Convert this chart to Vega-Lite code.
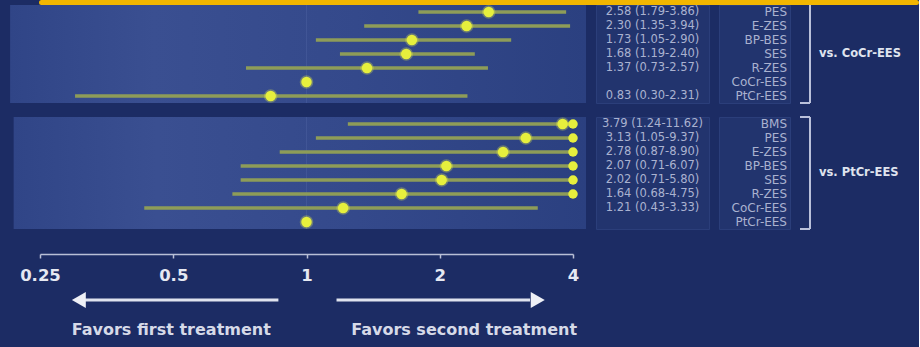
{
  "$schema": "https://vega.github.io/schema/vega-lite/v6.json",
  "background": "#1c2c64",
  "padding": {"left": 10, "top": 0, "right": 0, "bottom": 0},
  "config": {"view": {"stroke": null}, "font": "DejaVu Sans", "legend": {"disable": true}},
  "datasets": {
    "top": [
      {"trt": "PES", "est": 2.58, "lo": 1.79, "hi": 3.86, "ci": "2.58 (1.79-3.86)"},
      {"trt": "E-ZES", "est": 2.30, "lo": 1.35, "hi": 3.94, "ci": "2.30 (1.35-3.94)"},
      {"trt": "BP-BES", "est": 1.73, "lo": 1.05, "hi": 2.90, "ci": "1.73 (1.05-2.90)"},
      {"trt": "SES", "est": 1.68, "lo": 1.19, "hi": 2.40, "ci": "1.68 (1.19-2.40)"},
      {"trt": "R-ZES", "est": 1.37, "lo": 0.73, "hi": 2.57, "ci": "1.37 (0.73-2.57)"},
      {"trt": "CoCr-EES", "est": 1, "lo": null, "hi": null, "ci": ""},
      {"trt": "PtCr-EES", "est": 0.83, "lo": 0.30, "hi": 2.31, "ci": "0.83 (0.30-2.31)"}
    ],
    "bottom": [
      {"trt": "BMS", "est": 3.79, "lo": 1.24, "hi": 11.62, "ci": "3.79 (1.24-11.62)"},
      {"trt": "PES", "est": 3.13, "lo": 1.05, "hi": 9.37, "ci": "3.13 (1.05-9.37)"},
      {"trt": "E-ZES", "est": 2.78, "lo": 0.87, "hi": 8.90, "ci": "2.78 (0.87-8.90)"},
      {"trt": "BP-BES", "est": 2.07, "lo": 0.71, "hi": 6.07, "ci": "2.07 (0.71-6.07)"},
      {"trt": "SES", "est": 2.02, "lo": 0.71, "hi": 5.80, "ci": "2.02 (0.71-5.80)"},
      {"trt": "R-ZES", "est": 1.64, "lo": 0.68, "hi": 4.75, "ci": "1.64 (0.68-4.75)"},
      {"trt": "CoCr-EES", "est": 1.21, "lo": 0.43, "hi": 3.33, "ci": "1.21 (0.43-3.33)"},
      {"trt": "PtCr-EES", "est": 1, "lo": null, "hi": null, "ci": ""}
    ],
    "arrows": [
      {"kind": "arrow", "dir": "left", "from": 0.864, "to": 0.316, "head": 0.306},
      {"kind": "arrow", "dir": "right", "from": 1.169, "to": 3.2, "head": 3.33},
      {"kind": "caption", "at": 0.495, "label": "Favors first treatment"},
      {"kind": "caption", "at": 2.27, "label": "Favors second treatment"}
    ]
  },
  "spacing": -5,
  "vconcat": [
    {
      "width": 878, "height": 3,
      "view": {"fill": "#f2b600", "stroke": "#f2b600", "strokeWidth": 2, "cornerRadius": 2},
      "data": {"values": [{}]},
      "mark": {"type": "rect", "opacity": 0},
      "encoding": {}
    },
    {
      "spacing": 12,
      "vconcat": [
        {
          "spacing": 8,
          "hconcat": [
            {
              "width": 533, "height": 98,
              "data": {"name": "top"},
              "layer": [
                {"data": {"values": [{}]},
                 "mark": {"type": "rect", "color": {"gradient": "linear", "x1": 0, "y1": 0, "x2": 1, "y2": 0, "stops": [{"offset": 0, "color": "#304587"}, {"offset": 0.25, "color": "#3a4f91"}, {"offset": 0.6, "color": "#34498b"}, {"offset": 1, "color": "#2b4080"}]}},
                 "encoding": {"x": {"datum": 0.214, "type": "quantitative", "scale": {"type": "log", "domain": [0.25, 4], "nice": false}, "axis": null}, "x2": {"datum": 4.28}}},
                {"data": {"values": [{}]},
                 "mark": {"type": "rule", "color": "#4b60a0", "opacity": 0.5, "strokeWidth": 1},
                 "encoding": {"x": {"datum": 1, "type": "quantitative", "scale": {"type": "log", "domain": [0.25, 4], "nice": false}, "axis": null}}},
                {"transform": [{"filter": {"field": "lo", "valid": true}}, {"calculate": "min(datum.hi, 4)", "as": "hi_draw"}],
                 "mark": {"type": "rule", "color": "#8e9c58", "strokeWidth": 3.5},
                 "encoding": {
                   "x": {"field": "lo", "type": "quantitative", "scale": {"type": "log", "domain": [0.25, 4], "nice": false}, "axis": null},
                   "x2": {"field": "hi_draw"},
                   "y": {"field": "trt", "type": "nominal", "scale": {"domain": ["PES", "E-ZES", "BP-BES", "SES", "R-ZES", "CoCr-EES", "PtCr-EES"]}, "axis": null}}},
                {"mark": {"type": "point", "filled": true, "color": "#eaf24a", "opacity": 0.3, "size": 185},
                 "encoding": {
                   "x": {"field": "est", "type": "quantitative", "scale": {"type": "log", "domain": [0.25, 4], "nice": false}, "axis": null},
                   "y": {"field": "trt", "type": "nominal", "scale": {"domain": ["PES", "E-ZES", "BP-BES", "SES", "R-ZES", "CoCr-EES", "PtCr-EES"]}, "axis": null}}},
                {"mark": {"type": "point", "filled": true, "color": "#e6ef3d", "opacity": 1, "size": 110},
                 "encoding": {
                   "x": {"field": "est", "type": "quantitative", "scale": {"type": "log", "domain": [0.25, 4], "nice": false}, "axis": null},
                   "y": {"field": "trt", "type": "nominal", "scale": {"domain": ["PES", "E-ZES", "BP-BES", "SES", "R-ZES", "CoCr-EES", "PtCr-EES"]}, "axis": null}}}
              ]
            },
            {"width": 113, "height": 98, "data": {"name": "top"},
             "view": {"fill": "#22346e", "stroke": "#2b3e7a"},
             "mark": {"type": "text", "fontSize": 11.5, "color": "#aab2d0", "align": "center", "baseline": "middle"},
             "encoding": {"y": {"field": "trt", "type": "nominal", "scale": {"domain": ["PES", "E-ZES", "BP-BES", "SES", "R-ZES", "CoCr-EES", "PtCr-EES"]}, "axis": null}, "text": {"field": "ci"}}},
            {"width": 71, "height": 98, "data": {"name": "top"},
             "view": {"fill": "#22346e", "stroke": "#2b3e7a"},
             "mark": {"type": "text", "fontSize": 12, "color": "#aab2d0", "align": "right", "baseline": "middle", "dx": -3},
             "encoding": {"x": {"value": "width"}, "y": {"field": "trt", "type": "nominal", "scale": {"domain": ["PES", "E-ZES", "BP-BES", "SES", "R-ZES", "CoCr-EES", "PtCr-EES"]}, "axis": null}, "text": {"field": "trt"}}},
            {"width": 10, "height": 98, "data": {"values": [{}]},
             "layer": [
               {"mark": {"type": "rule", "color": "#b9c0da", "strokeWidth": 2}, "encoding": {"x": {"value": "width"}, "y": {"value": 0}, "y2": {"value": "height"}}},
               {"mark": {"type": "rule", "color": "#b9c0da", "strokeWidth": 2}, "encoding": {"x": {"value": 0}, "x2": {"value": "width"}, "y": {"value": "height"}}}
             ]},
            {"width": 97, "height": 98, "data": {"values": [{"t": "vs. CoCr-EES"}]},
             "mark": {"type": "text", "fontSize": 11.5, "fontWeight": "bold", "color": "#dfe3ee", "align": "left", "baseline": "middle"},
             "encoding": {"x": {"value": 0}, "text": {"field": "t"}}}
          ]
        },
        {
          "spacing": 8,
          "hconcat": [
            {
              "width": 533, "height": 112,
              "data": {"name": "bottom"},
              "layer": [
                {"data": {"values": [{}]},
                 "mark": {"type": "rect", "color": {"gradient": "linear", "x1": 0, "y1": 0, "x2": 1, "y2": 0, "stops": [{"offset": 0, "color": "#304587"}, {"offset": 0.25, "color": "#3a4f91"}, {"offset": 0.6, "color": "#34498b"}, {"offset": 1, "color": "#2b4080"}]}},
                 "encoding": {"x": {"datum": 0.218, "type": "quantitative", "scale": {"type": "log", "domain": [0.25, 4], "nice": false}, "axis": null}, "x2": {"datum": 4.28}}},
                {"data": {"values": [{}]},
                 "mark": {"type": "rule", "color": "#4b60a0", "opacity": 0.5, "strokeWidth": 1},
                 "encoding": {"x": {"datum": 1, "type": "quantitative", "scale": {"type": "log", "domain": [0.25, 4], "nice": false}, "axis": null}}},
                {"transform": [{"filter": {"field": "lo", "valid": true}}, {"calculate": "min(datum.hi, 4)", "as": "hi_draw"}],
                 "mark": {"type": "rule", "color": "#8e9c58", "strokeWidth": 3.5},
                 "encoding": {
                   "x": {"field": "lo", "type": "quantitative", "scale": {"type": "log", "domain": [0.25, 4], "nice": false}, "axis": null},
                   "x2": {"field": "hi_draw"},
                   "y": {"field": "trt", "type": "nominal", "scale": {"domain": ["BMS", "PES", "E-ZES", "BP-BES", "SES", "R-ZES", "CoCr-EES", "PtCr-EES"]}, "axis": null}}},
                {"transform": [{"filter": "datum.hi > 4"}],
                 "mark": {"type": "point", "filled": true, "color": "#e6ef3d", "opacity": 1, "size": 90},
                 "encoding": {
                   "x": {"datum": 4, "type": "quantitative", "scale": {"type": "log", "domain": [0.25, 4], "nice": false}, "axis": null},
                   "y": {"field": "trt", "type": "nominal", "scale": {"domain": ["BMS", "PES", "E-ZES", "BP-BES", "SES", "R-ZES", "CoCr-EES", "PtCr-EES"]}, "axis": null}}},
                {"mark": {"type": "point", "filled": true, "color": "#eaf24a", "opacity": 0.3, "size": 185},
                 "encoding": {
                   "x": {"field": "est", "type": "quantitative", "scale": {"type": "log", "domain": [0.25, 4], "nice": false}, "axis": null},
                   "y": {"field": "trt", "type": "nominal", "scale": {"domain": ["BMS", "PES", "E-ZES", "BP-BES", "SES", "R-ZES", "CoCr-EES", "PtCr-EES"]}, "axis": null}}},
                {"mark": {"type": "point", "filled": true, "color": "#e6ef3d", "opacity": 1, "size": 110},
                 "encoding": {
                   "x": {"field": "est", "type": "quantitative", "scale": {"type": "log", "domain": [0.25, 4], "nice": false}, "axis": null},
                   "y": {"field": "trt", "type": "nominal", "scale": {"domain": ["BMS", "PES", "E-ZES", "BP-BES", "SES", "R-ZES", "CoCr-EES", "PtCr-EES"]}, "axis": null}}}
              ]
            },
            {"width": 113, "height": 112, "data": {"name": "bottom"},
             "view": {"fill": "#22346e", "stroke": "#2b3e7a"},
             "mark": {"type": "text", "fontSize": 11.5, "color": "#aab2d0", "align": "center", "baseline": "middle"},
             "encoding": {"y": {"field": "trt", "type": "nominal", "scale": {"domain": ["BMS", "PES", "E-ZES", "BP-BES", "SES", "R-ZES", "CoCr-EES", "PtCr-EES"]}, "axis": null}, "text": {"field": "ci"}}},
            {"width": 71, "height": 112, "data": {"name": "bottom"},
             "view": {"fill": "#22346e", "stroke": "#2b3e7a"},
             "mark": {"type": "text", "fontSize": 12, "color": "#aab2d0", "align": "right", "baseline": "middle", "dx": -3},
             "encoding": {"x": {"value": "width"}, "y": {"field": "trt", "type": "nominal", "scale": {"domain": ["BMS", "PES", "E-ZES", "BP-BES", "SES", "R-ZES", "CoCr-EES", "PtCr-EES"]}, "axis": null}, "text": {"field": "trt"}}},
            {"width": 10, "height": 112, "data": {"values": [{}]},
             "layer": [
               {"mark": {"type": "rule", "color": "#b9c0da", "strokeWidth": 2}, "encoding": {"x": {"value": "width"}, "y": {"value": 0}, "y2": {"value": "height"}}},
               {"mark": {"type": "rule", "color": "#b9c0da", "strokeWidth": 2}, "encoding": {"x": {"value": 0}, "x2": {"value": "width"}, "y": {"value": 0}}},
               {"mark": {"type": "rule", "color": "#b9c0da", "strokeWidth": 2}, "encoding": {"x": {"value": 0}, "x2": {"value": "width"}, "y": {"value": "height"}}}
             ]},
            {"width": 97, "height": 112, "data": {"values": [{"t": "vs. PtCr-EES"}]},
             "mark": {"type": "text", "fontSize": 11.5, "fontWeight": "bold", "color": "#dfe3ee", "align": "left", "baseline": "middle"},
             "encoding": {"x": {"value": 0}, "text": {"field": "t"}}}
          ]
        },
        {
          "width": 533, "height": 108,
          "data": {"name": "arrows"},
          "layer": [
            {"transform": [{"filter": "datum.kind == 'arrow'"}],
             "mark": {"type": "rule", "color": "#dfe3ee", "strokeWidth": 3},
             "encoding": {
               "x": {"field": "from", "type": "quantitative", "scale": {"type": "log", "domain": [0.25, 4], "nice": false}, "axis": {"values": [0.25, 0.5, 1, 2, 4], "format": "~g", "title": null, "offset": -96, "domainColor": "#b8bfd6", "domainWidth": 1.5, "tickColor": "#b8bfd6", "tickSize": 4, "tickWidth": 1.5, "labelColor": "#e6e9f2", "labelFontSize": 16.5, "labelFontWeight": "bold", "labelPadding": 9, "grid": false, "labelFlush": false}},
               "x2": {"field": "to"},
               "y": {"field": "kind", "type": "nominal", "scale": {"type": "band", "domain": ["arrow", "caption"], "paddingInner": 0, "paddingOuter": 0.8, "align": 0.896}, "axis": null}}},
            {"transform": [{"filter": "datum.kind == 'arrow'"}],
             "mark": {"type": "point", "filled": true, "color": "#eef0f6", "opacity": 1, "size": 260},
             "encoding": {
               "x": {"field": "head", "type": "quantitative", "scale": {"type": "log", "domain": [0.25, 4], "nice": false}, "axis": {"values": [0.25, 0.5, 1, 2, 4], "format": "~g", "title": null, "offset": -96, "domainColor": "#b8bfd6", "domainWidth": 1.5, "tickColor": "#b8bfd6", "tickSize": 4, "tickWidth": 1.5, "labelColor": "#e6e9f2", "labelFontSize": 16.5, "labelFontWeight": "bold", "labelPadding": 9, "grid": false, "labelFlush": false}},
               "y": {"field": "kind", "type": "nominal", "scale": {"type": "band", "domain": ["arrow", "caption"], "paddingInner": 0, "paddingOuter": 0.8, "align": 0.896}, "axis": null},
               "shape": {"field": "dir", "type": "nominal", "scale": {"domain": ["left", "right"], "range": ["triangle-left", "triangle-right"]}, "legend": null}}},
            {"transform": [{"filter": "datum.kind == 'caption'"}],
             "mark": {"type": "text", "fontSize": 16, "fontWeight": "bold", "color": "#d6dae8", "align": "center", "baseline": "middle"},
             "encoding": {
               "x": {"field": "at", "type": "quantitative", "scale": {"type": "log", "domain": [0.25, 4], "nice": false}, "axis": {"values": [0.25, 0.5, 1, 2, 4], "format": "~g", "title": null, "offset": -96, "domainColor": "#b8bfd6", "domainWidth": 1.5, "tickColor": "#b8bfd6", "tickSize": 4, "tickWidth": 1.5, "labelColor": "#e6e9f2", "labelFontSize": 16.5, "labelFontWeight": "bold", "labelPadding": 9, "grid": false, "labelFlush": false}},
               "y": {"field": "kind", "type": "nominal", "scale": {"type": "band", "domain": ["arrow", "caption"], "paddingInner": 0, "paddingOuter": 0.8, "align": 0.896}, "axis": null},
               "text": {"field": "label"}}}
          ]
        }
      ]
    }
  ]
}
